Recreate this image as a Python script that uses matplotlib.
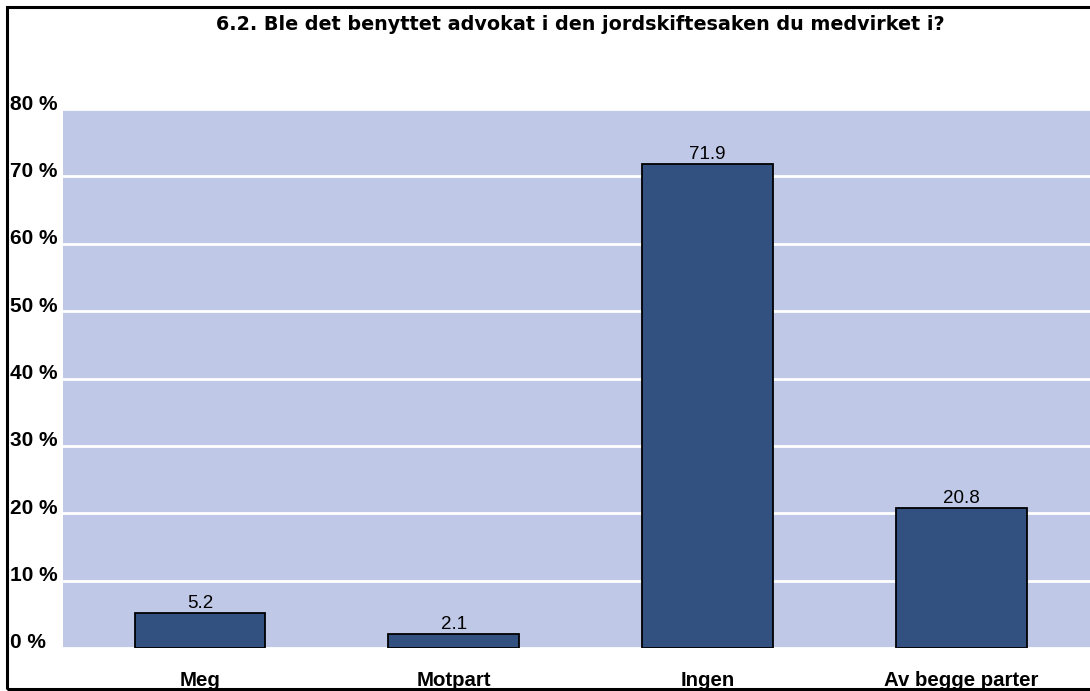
import matplotlib.pyplot as plt
from matplotlib.patches import Rectangle

categories = ['Meg', 'Motpart', 'Ingen', 'Av begge parter']
values = [5.2, 2.1, 71.9, 20.8]
yticks = [0, 10, 20, 30, 40, 50, 60, 70, 80]
title = '6.2. Ble det benyttet advokat i den jordskiftesaken du medvirket i?'

plt.rcParams['font.family'] = ['Liberation Sans', 'DejaVu Sans']

W, H = 1090, 691
fig = plt.figure(figsize=(W / 100, H / 100), dpi=100)
ax = fig.add_axes([63 / W, (H - 648) / H, (W - 63) / W + 0.01, (648 - 109) / H])

ax.set_facecolor('#bfc8e6')
x = range(len(categories))
bars = ax.bar(x, values, width=0.515, color='#325180', edgecolor='black', linewidth=1.3, zorder=3)
for b, v in zip(bars, values):
    ax.annotate(f'{v:.1f}', xy=(b.get_x() + b.get_width() / 2, v), xytext=(0, 1),
                textcoords='offset pixels', ha='center', va='bottom', fontsize=13.5, zorder=4)

ax.set_ylim(0, 80)
ax.set_xlim(-0.54, 3.55)
ax.set_yticks(yticks)
ax.set_yticklabels([])
ax.yaxis.grid(True, color='white', linewidth=2)
ax.set_axisbelow(True)
for s in ax.spines.values():
    s.set_visible(False)
ax.tick_params(length=0)
ax.set_xticks(list(x))
ax.set_xticklabels([])

# y labels, left aligned near the figure edge
for t in yticks:
    ax.annotate(f'{t} %', xy=(0, t), xycoords=('axes fraction', 'data'),
                xytext=(10 - 63, 5), textcoords='offset pixels',
                ha='left', va='center', fontsize=15, fontweight='bold')

for i, c in enumerate(categories):
    ax.annotate(c, xy=(i, 0), xycoords='data', xytext=(0, -33), textcoords='offset pixels',
                ha='center', va='center', fontsize=14.7, fontweight='bold', annotation_clip=False)

fig.text(580 / W, 1 - 24 / H, title, ha='center', va='center', fontsize=13.8,
         fontweight='bold', family='DejaVu Sans')

fig.patches.append(Rectangle((7 / W, 2 / H), 1.1, (689 - 7) / H, transform=fig.transFigure,
                             fill=False, edgecolor='black', linewidth=2.2))

fig.savefig('out.png', dpi=100)
